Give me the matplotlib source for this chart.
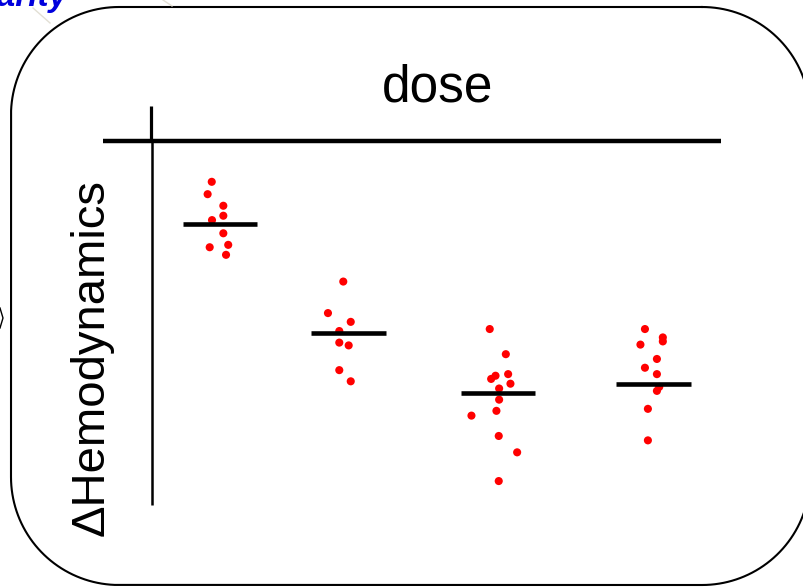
import numpy as np
import matplotlib.pyplot as plt
from matplotlib.lines import Line2D

plt.rcParams['font.family'] = ['Liberation Sans', 'DejaVu Sans']

# dose groups (x position of each group on the dose axis)
dose_x = [1.0, 2.0, 3.16, 4.37]
# mean marks
group_means = [70.4, 43.0, 28.1, 30.4]

# per-point horizontal jitter and value for each dose group
jitter_1 = [-0.064, -0.096, 0.026, 0.026, -0.062, 0.026, -0.080, 0.064, 0.047]
values_1 = [81.0, 77.9, 75.0, 72.5, 71.4, 68.1, 64.6, 65.2, 62.7]
jitter_2 = [-0.042, -0.161, 0.016, -0.073, -0.073, 0.0, -0.073, 0.016]
values_2 = [56.0, 48.1, 45.9, 43.6, 40.7, 40.0, 33.8, 31.0]
jitter_3 = [-0.064, 0.061, 0.079, -0.019, -0.053, 0.097, 0.009, 0.009, -0.012, -0.206, 0.006, 0.149, 0.006]
values_3 = [44.1, 37.8, 32.8, 32.4, 31.6, 30.4, 29.2, 26.4, 23.6, 22.4, 17.3, 13.2, 6.0]
jitter_4 = [-0.068, 0.071, 0.071, -0.103, 0.025, -0.068, 0.025, 0.043, 0.025, -0.045, -0.045]
values_4 = [44.1, 42.0, 41.0, 40.2, 36.6, 34.4, 32.8, 29.6, 28.6, 24.1, 16.2]

jitters = [jitter_1, jitter_2, jitter_3, jitter_4]
values = [values_1, values_2, values_3, values_4]

axis_cross_y = 91.25
axis_cross_x = 0.462

W, H = 804, 587
fig = plt.figure(figsize=(W / 100, H / 100), dpi=100)


def rounded_frame(left, top, right, bottom, r):
    # outline in pixel coords (y down), corners as circular arcs
    pts = []
    corners = [((right - r, top + r), -90, 0), ((right - r, bottom - r), 0, 90),
               ((left + r, bottom - r), 90, 180), ((left + r, top + r), 180, 270)]
    for (cx, cy), a0, a1 in corners:
        a = np.radians(np.linspace(a0, a1, 40))
        pts.extend(zip(cx + r * np.cos(a), cy + r * np.sin(a)))
    pts.append(pts[0])
    px, py = np.array(pts).T
    return px / W, 1 - py / H


fx, fy = rounded_frame(11, 7, 810, 585, 108)
fig.lines.append(Line2D(fx, fy, transform=fig.transFigure, color='black', lw=1.5))

# leftovers from the surrounding slide
fig.text(68 / W, 1 - 6 / H, "Linearity", ha='right', va='baseline',
         fontsize=24, style='italic', weight='bold', color='#0000dd')
fig.lines.append(Line2D([33 / W, 50 / W], [1 - 8 / H, 1 - 23 / H],
                        transform=fig.transFigure, color='#e2dfd4', lw=1))
fig.lines.append(Line2D([163 / W, 172 / W], [1 - 0 / H, 1 - 6 / H],
                        transform=fig.transFigure, color='#e2dfd4', lw=1))
fig.lines.append(Line2D([0, 3 / W, 0], [1 - 308 / H, 1 - 318 / H, 1 - 328 / H],
                        transform=fig.transFigure, color='black', lw=1))

ax = fig.add_axes([103 / W, (H - 505) / H, (721 - 103) / W, (505 - 106) / H])
ax.set_xlim(0.091, 4.893)
ax.set_ylim(0, 100)
ax.axis('off')

# axes drawn as plain lines
ax.plot(ax.get_xlim(), [axis_cross_y, axis_cross_y], color='black', lw=3.2,
        solid_capstyle='butt', clip_on=False)
ax.plot([axis_cross_x, axis_cross_x], [axis_cross_y, 100], color='black', lw=2.3,
        solid_capstyle='butt', clip_on=False)
ax.plot([axis_cross_x + 0.01, axis_cross_x + 0.01], [0, axis_cross_y], color='black',
        lw=1.8, solid_capstyle='butt', clip_on=False)

for x0, jit, vals, m in zip(dose_x, jitters, values, group_means):
    ax.scatter(x0 + np.array(jit), vals, s=34, color='red', edgecolors='none', zorder=3)
    ax.plot([x0 - 0.29, x0 + 0.29], [m, m], color='black', lw=3.3,
            solid_capstyle='butt', zorder=4)

fig.text(438 / W, 1 - 101 / H, "dose", ha='center', va='baseline', fontsize=37)
fig.text(92 / W, 1 - 357 / H, "\u0394Hemodynamics", ha='center', va='center',
         rotation=90, fontsize=34)

fig.savefig("out.png", dpi=100)
